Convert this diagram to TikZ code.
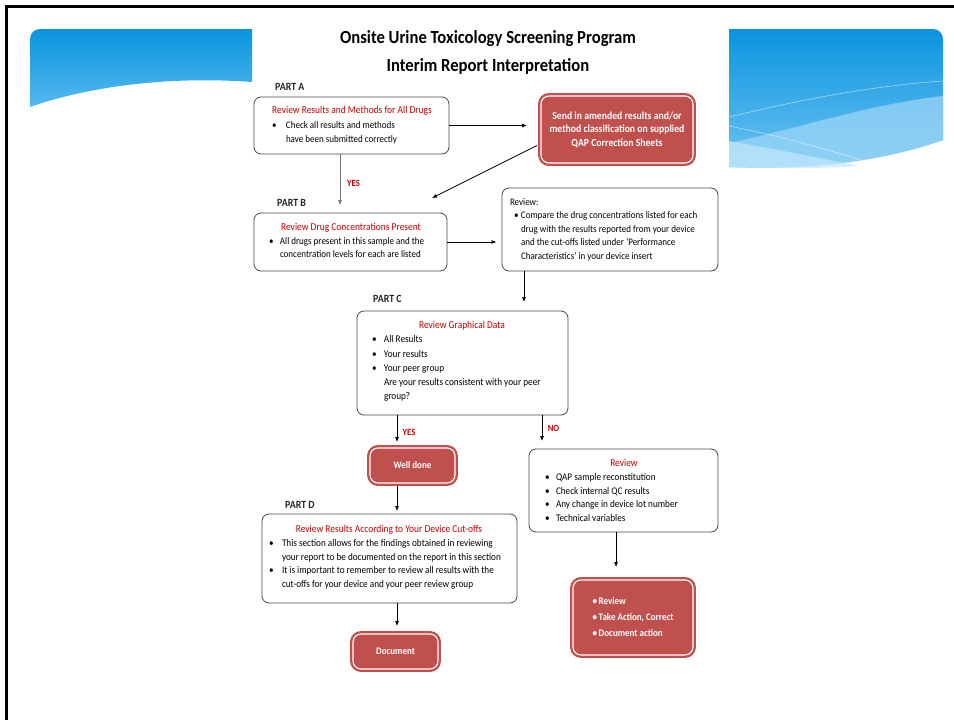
\documentclass[tikz,border=0pt]{standalone}
\usepackage{fontspec}
\setmainfont{Carlito}[FakeStretch=0.9]
\usetikzlibrary{arrows.meta}
\definecolor{boxred}{HTML}{C0504D}
\definecolor{titlered}{HTML}{C00000}
\definecolor{bluetop}{HTML}{0A94DE}
\definecolor{bluebot}{HTML}{55B9F0}
\definecolor{bandblue}{HTML}{9AD5F7}
\definecolor{paleblue}{HTML}{C3E7FB}
\tikzset{
  whitebox/.style={draw=black!72, line width=0.8pt, rounded corners=7pt, fill=white, inner sep=0pt, outer sep=0pt},
  redbox/.style={fill=boxred, draw=boxred, double=white, double distance=1.1pt, line width=2.35pt,
     rounded corners=8pt, inner sep=0pt, outer sep=0pt, text=white, align=center,
     font=\fontsize{10}{13.5}\selectfont\bfseries},
  txt/.style={inner sep=0pt, outer sep=0pt, anchor=north west, font=\fontsize{10}{13.5}\selectfont},
  redtitle/.style={inner sep=0pt, anchor=base, text=titlered, font=\fontsize{10.5}{12}\selectfont},
  partlbl/.style={inner sep=0pt, anchor=base west, font=\fontsize{11}{13}\selectfont\bfseries, text=black!85},
  yeslbl/.style={inner sep=0pt, anchor=base, text=titlered, font=\fontsize{9.5}{11}\selectfont\bfseries},
  arr/.style={-{Latex[length=5pt,width=4pt]}, line width=0.7pt, draw=black},
  maintitle/.style={inner sep=0pt, anchor=base, font=\fontsize{18.5}{22}\selectfont\bfseries}
}
\begin{document}
\begin{tikzpicture}[x=1pt,y=-1pt]
\useasboundingbox (0,0) rectangle (954,720);
\fill[white] (0,0) rectangle (954,720);
% ---- blue banner (left part)
\shade[top color=bluetop, bottom color=bluebot]
  (30,107) -- (30,39) .. controls (30,33.5) and (34.5,29) .. (40,29) -- (252,29) -- (252,82)
  .. controls (170,76) and (90,86) .. (30,107) -- cycle;
% ---- blue banner (right part)
\shade[top color=bluetop, bottom color=bluebot!85!white]
  (729,29) -- (933,29) .. controls (938.5,29) and (943,33.5) .. (943,39) -- (943,140)
  .. controls (880,162) and (810,170) .. (729,167) -- cycle;
\fill[bandblue, opacity=0.75]
  (729,143) .. controls (800,128) and (870,104) .. (943,96) -- (943,140)
  .. controls (880,162) and (810,170) .. (729,167) -- cycle;
\fill[paleblue, opacity=0.7]
  (729,141) .. controls (780,150) and (820,158) .. (858,166)
  .. controls (820,169) and (770,168) .. (729,167) -- cycle;
\draw[white, opacity=0.55, line width=0.6pt] (729,117) .. controls (800,100) and (870,86) .. (943,81);
\draw[white, opacity=0.55, line width=0.6pt] (729,126) .. controls (780,136) and (830,150) .. (870,163);
% ---- slide frame
\draw[line width=3pt] (6.5,720) -- (6.5,6.5) -- (954,6.5);
% ---- titles
\node[maintitle] (t1) at (488,43) {Onsite Urine Toxicology Screening Program};
\node[maintitle] (t2) at (488,71) {Interim Report Interpretation};
% ---- part labels
\node[partlbl] (pa) at (275,90) {PART A};
\node[partlbl] (pb) at (277,206.5) {PART B};
\node[partlbl] (pc) at (373,302.5) {PART C};
\node[partlbl] (pd) at (285,508) {PART D};
% ---- boxes
\node[whitebox, minimum width=195pt, minimum height=57pt] (A) at (351.5,125.5) {};
\node[redbox, minimum width=152pt, minimum height=67pt, font=\fontsize{10.8}{13.5}\selectfont\bfseries] (S) at (617,129.5)
  {Send in amended results and/or\\method classification on supplied\\QAP Correction Sheets};
\node[whitebox, minimum width=193pt, minimum height=58pt] (B) at (350.5,242) {};
\node[whitebox, minimum width=216pt, minimum height=83pt] (R) at (610,229.5) {};
\node[whitebox, minimum width=211pt, minimum height=104pt] (C) at (462.5,363) {};
\node[redbox, minimum width=85pt, minimum height=35pt] (W) at (412.5,465.5) {Well done};
\node[whitebox, minimum width=189pt, minimum height=83pt] (R2) at (623.5,490.5) {};
\node[whitebox, minimum width=255pt, minimum height=89pt] (D) at (389.5,558.5) {};
\node[redbox, minimum width=85pt, minimum height=35pt] (Doc) at (395.5,651.5) {Document};
\node[redbox, minimum width=120pt, minimum height=75pt] (Act) at (633,617.5)
  {\fontsize{10}{16}\selectfont\bfseries\begin{tabular}{@{}l@{}}\textbullet\,Review\\ \textbullet\,Take Action, Correct\\ \textbullet\,Document action\end{tabular}};
% ---- box texts
\node[redtitle] (Ah) at (352,113.5) {Review Results and Methods for All Drugs};
\node[txt] (At) at (272,118.5) {\fontsize{10}{14}\selectfont\begin{tabular}{@{}p{14pt}@{}l@{}}\textbullet & Check all results and methods\\ & have been submitted correctly\end{tabular}};
\node[redtitle] (Bh) at (351,230.5) {Review Drug Concentrations Present};
\node[txt] (Bt) at (269,235) {\begin{tabular}{@{}p{11pt}@{}l@{}}\textbullet & All drugs present in this sample and the\\ & concentration levels for each are listed\end{tabular}};
\node[txt] (Rt) at (514,196) {\begin{tabular}{@{}p{7pt}@{}l@{}}\multicolumn{2}{@{}l@{}}{\hspace*{-4pt}Review:}\\ \textbullet & Compare the drug concentrations listed for each\\ & drug with the results reported from your device\\ & and the cut-offs listed under ‘Performance\\ & Characteristics’ in your device insert\end{tabular}};
\node[redtitle] (Ch) at (462,328.5) {Review Graphical Data};
\node[txt] (Ct) at (372,333) {\fontsize{10.25}{14.2}\selectfont\begin{tabular}{@{}p{12pt}@{}l@{}}\textbullet & All Results\\ \textbullet & Your results\\ \textbullet & Your peer group\\ & Are your results consistent with your peer\\ & group?\end{tabular}};
\node[redtitle] (Dh) at (389,532.5) {Review Results According to Your Device Cut-offs};
\node[txt] (Dt) at (269,537) {\fontsize{10.2}{13.7}\selectfont\begin{tabular}{@{}p{13pt}@{}l@{}}\textbullet & This section allows for the findings obtained in reviewing\\ & your report to be documented on the report in this section\\ \textbullet & It is important to remember to review all results with the\\ & cut-offs for your device and your peer review group\end{tabular}};
\node[redtitle] (R2h) at (624,466.5) {Review};
\node[txt] (R2t) at (545,471) {\fontsize{10.2}{13.7}\selectfont\begin{tabular}{@{}p{11pt}@{}l@{}}\textbullet & QAP sample reconstitution\\ \textbullet & Check internal QC results\\ \textbullet & Any change in device lot number\\ \textbullet & Technical variables\end{tabular}};
% ---- branch labels
\node[yeslbl] (y1) at (353.5,186.5) {YES};
\node[yeslbl] (y2) at (409,435.5) {YES};
\node[yeslbl] (no) at (553.5,431.5) {NO};
% ---- connectors
\draw[arr, shorten >=14pt] (A.east) -- (S.west |- A.east);
\draw[arr] ([xshift=-4pt,yshift=-16pt]S.west) -- ([xshift=-15pt,yshift=15pt]B.north east);
\draw[arr, draw=black!55, shorten >=8pt] ([xshift=-11.5pt]A.south) -- ([xshift=-11.5pt]A.south |- B.north);
\draw[arr, shorten >=5.5pt] (B.east) -- (R.west |- B.east);
\draw[arr, shorten >=9pt] ([xshift=-86pt]R.south) -- ([xshift=-86pt]R.south |- C.north);
\draw[arr, shorten >=6pt] ([xshift=-65.5pt]C.south) -- ([xshift=-65.5pt]C.south |- W.north);
\draw[arr, shorten >=8pt] ([xshift=79.5pt]C.south) -- ([xshift=79.5pt]C.south |- R2.north);
\draw[arr, shorten <=3pt, shorten >=3pt] ([xshift=-15.5pt]W.south) -- ([xshift=-15.5pt]W.south |- D.north);
\draw[arr, shorten >=8pt] ([xshift=7.5pt]D.south) -- ([xshift=7.5pt]D.south |- Doc.north);
\draw[arr, shorten >=13pt] ([xshift=-7.5pt]R2.south) -- ([xshift=-7.5pt]R2.south |- Act.north);
\end{tikzpicture}
\end{document}
